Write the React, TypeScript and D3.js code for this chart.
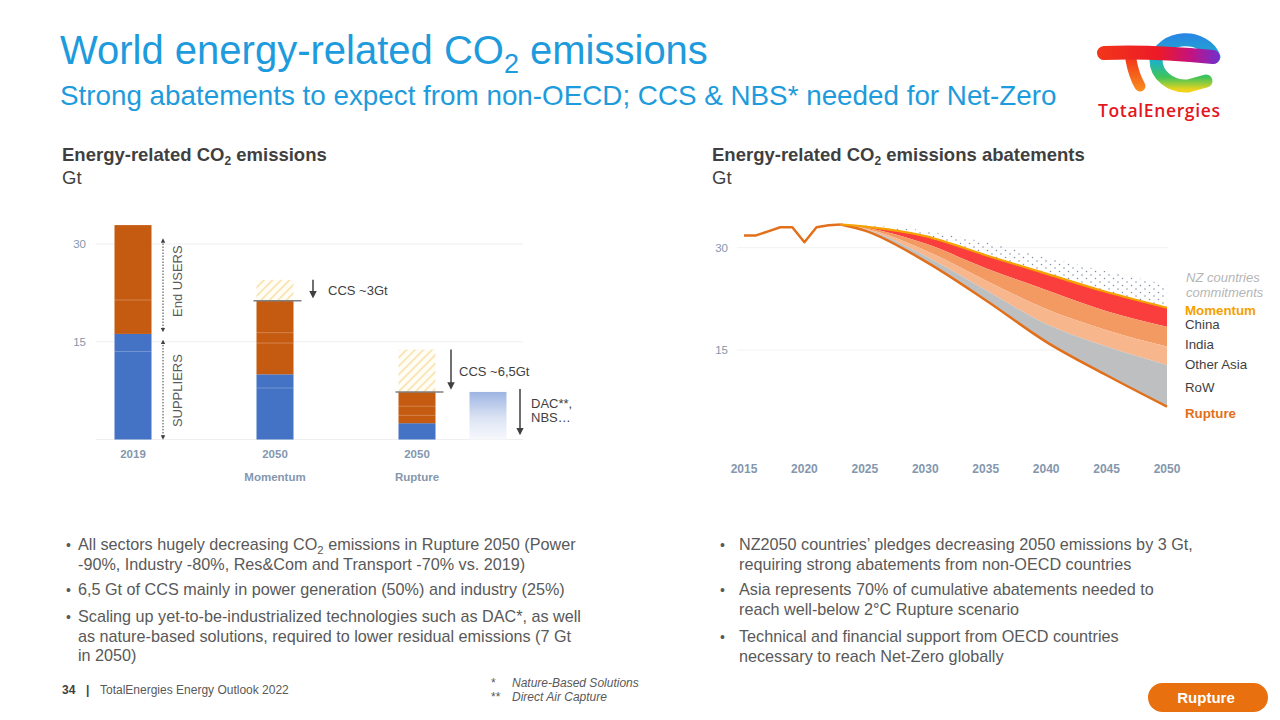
import React from "react";
import * as d3 from "d3";

// ---------- Left chart data (Gt) ----------
const barCategories = ["2019", "Momentum", "Rupture"];
const barYearLabels = ["2019", "2050", "2050"];
const barScenarioLabels = ["", "Momentum", "Rupture"];
const suppliers = [16.2, 10.0, 2.5];
const endUsers = [16.7, 11.3, 4.8];
const ccs = [0, 3.2, 6.5];
const sectorSeparators = [[13.5, 21.4], [7.9, 14.8, 16.4], [3.7, 5.1]];
const dacNbs = 7.3;
const leftTicks = [0, 15, 30];

// ---------- Right chart data (Gt) ----------
const histYears = [2015, 2016, 2017, 2018, 2019, 2020, 2021, 2022, 2023];
const histValues = [31.8, 31.8, 32.4, 33.0, 33.0, 30.8, 33.0, 33.3, 33.4];
const projYears = [2023, 2025, 2030, 2035, 2040, 2045, 2050];
const nzCommitmentsTop = [33.4, 33.3, 32.5, 30.8, 28.6, 26.5, 24.6];
const momentum = [33.4, 33.1, 31.7, 28.9, 26.2, 23.5, 21.2];
const chinaLow = [33.4, 32.95, 30.6, 27.0, 23.8, 20.7, 18.4];
const indiaLow = [33.4, 32.8, 29.6, 25.2, 21.0, 17.9, 15.5];
const otherAsiaLow = [33.4, 32.7, 28.8, 23.8, 18.8, 15.5, 12.8];
const rupture = [33.4, 32.5, 28.0, 22.3, 16.2, 11.3, 6.7];
const rightTicks = [15, 30];
const xTickYears = [2015, 2020, 2025, 2030, 2035, 2040, 2045, 2050];

const FONT = "'Liberation Sans', Arial, Helvetica, sans-serif";
const BLUE_TITLE = "#1E9BDC";
const TEXT = "#595959";
const DARK = "#3F3F3F";
const AXIS = "#8497AE";

const leftBullets = [
  { lines: [["All sectors hugely decreasing CO", "2", " emissions in Rupture 2050 (Power"], ["-90%, Industry -80%, Res&Com and Transport -70% vs. 2019)"]], y: 550 },
  { lines: [["6,5 Gt of CCS mainly in power generation (50%) and industry (25%)"]], y: 595 },
  { lines: [["Scaling up yet-to-be-industrialized technologies such as DAC*, as well"], ["as nature-based solutions, required to lower residual emissions (7 Gt"], ["in 2050)"]], y: 622 },
];
const rightBullets = [
  { lines: [["NZ2050 countries\u2019 pledges decreasing 2050 emissions by 3 Gt,"], ["requiring strong abatements from non-OECD countries"]], y: 550 },
  { lines: [["Asia represents 70% of cumulative abatements needed to"], ["reach well-below 2\u00b0C Rupture scenario"]], y: 595 },
  { lines: [["Technical and financial support from OECD countries"], ["necessary to reach Net-Zero globally"]], y: 642 },
];

function Line({ parts, x, y, size }: { parts: string[]; x: number; y: number; size: number }) {
  return (
    <text x={x} y={y} fontSize={size} fill={TEXT} fontFamily={FONT}>
      {parts.length === 1 ? parts[0] : (
        <>
          {parts[0]}
          <tspan dy={4} fontSize={size * 0.7}>{parts[1]}</tspan>
          <tspan dy={-4}>{parts[2]}</tspan>
        </>
      )}
    </text>
  );
}

function Bullets({ items, bx, tx }: { items: any[]; bx: number; tx: number }) {
  return (
    <g>
      {items.map((b, i) => (
        <g key={i}>
          <text x={bx} y={b.y} fontSize={14} fill={TEXT} fontFamily={FONT}>{"\u2022"}</text>
          {b.lines.map((l: string[], j: number) => (
            <Line key={j} parts={l} x={tx} y={b.y + j * 19.5} size={16.2} />
          ))}
        </g>
      ))}
    </g>
  );
}

function LeftChart() {
  const x = d3.scalePoint<string>().domain(barCategories).range([62, 488]).padding(0.5);
  const y = d3.scaleLinear().domain([0, 30]).range([439.5, 244]);
  const bw = 37;
  const bx = (c: string) => (x(c) as number) - bw / 2;
  const dacX = (x("Rupture") as number) + 71 - bw / 2;
  const ccsArrowX = [0, 313, 451];
  const ccsTextX = [0, 328, 459];
  const ccsLabels = ["", "CCS ~3Gt", "CCS ~6,5Gt"];
  return (
    <g fontFamily={FONT}>
      <text x={62} y={161} fontSize={18.5} fontWeight="bold" fill={DARK}>
        Energy-related CO<tspan dy={4} fontSize={12}>2</tspan><tspan dy={-4}> emissions</tspan>
      </text>
      <text x={62} y={184} fontSize={18.5} fill={DARK}>Gt</text>
      {leftTicks.map((t) => (
        <g key={t}>
          <line x1={96} x2={523} y1={y(t)} y2={y(t)} stroke="#EFEFEF" strokeWidth={1} />
          {t > 0 && (
            <text x={86} y={y(t) + 4} fontSize={11.5} fill={AXIS} textAnchor="end">{t}</text>
          )}
        </g>
      ))}
      <defs>
        <pattern id="hatch" width="6" height="6" patternUnits="userSpaceOnUse" patternTransform="rotate(45)">
          <rect width="6" height="6" fill="#FFFDF6" />
          <line x1="0" y1="0" x2="0" y2="6" stroke="#F7DFA5" strokeWidth="3" />
        </pattern>
        <linearGradient id="dacGrad" x1="0" y1="0" x2="0" y2="1">
          <stop offset="0" stopColor="#9DB4E2" />
          <stop offset="0.55" stopColor="#DCE4F4" />
          <stop offset="1" stopColor="#F7F8FC" />
        </linearGradient>
        <marker id="ah" viewBox="0 0 10 10" refX="5" refY="5" markerWidth="5" markerHeight="6" orient="auto-start-reverse">
          <path d="M0,0 L10,5 L0,10 z" fill="#404040" />
        </marker>
        <marker id="ahs" viewBox="0 0 10 10" refX="5" refY="5" markerWidth="4.5" markerHeight="5" orient="auto-start-reverse">
          <path d="M0,0 L10,5 L0,10 z" fill="#404040" />
        </marker>
      </defs>
      {barCategories.map((c, i) => {
        const total = suppliers[i] + endUsers[i];
        return (
          <g key={c}>
            {ccs[i] > 0 && (
              <rect x={bx(c)} y={y(total + ccs[i])} width={bw} height={y(total) - y(total + ccs[i])} fill="url(#hatch)" />
            )}
            <rect x={bx(c)} y={y(suppliers[i])} width={bw} height={y(0) - y(suppliers[i])} fill="#4472C4" />
            <rect x={bx(c)} y={y(total)} width={bw} height={y(suppliers[i]) - y(total)} fill="#C55A11" />
            {sectorSeparators[i].map((s, j) => (
              <line key={j} x1={bx(c)} x2={bx(c) + bw} y1={y(s)} y2={y(s)} stroke="#FFFFFF" strokeOpacity={0.25} strokeWidth={1} />
            ))}
            {ccs[i] > 0 && (
              <>
                <line x1={bx(c) - 3} x2={bx(c) + bw + 8} y1={y(total)} y2={y(total)} stroke="#808080" strokeWidth={1.5} />
                <line x1={ccsArrowX[i]} x2={ccsArrowX[i]} y1={y(total + ccs[i])} y2={y(total) - 6} stroke="#404040" strokeWidth={1.5} markerEnd="url(#ah)" />
                <text x={ccsTextX[i]} y={y(total + ccs[i] / 2) + 5} fontSize={13} fill={DARK}>{ccsLabels[i]}</text>
              </>
            )}
            <text x={x(c)} y={458} fontSize={11.5} fontWeight="bold" fill={AXIS} textAnchor="middle">{barYearLabels[i]}</text>
            {barScenarioLabels[i] && (
              <text x={x(c)} y={481} fontSize={11.5} fontWeight="bold" fill={AXIS} textAnchor="middle">{barScenarioLabels[i]}</text>
            )}
          </g>
        );
      })}
      {/* DAC / NBS box */}
      <rect x={dacX} y={y(dacNbs)} width={bw} height={y(0) - y(dacNbs)} fill="url(#dacGrad)" />
      <line x1={520} x2={520} y1={y(dacNbs) - 3} y2={y(0) - 8} stroke="#404040" strokeWidth={1.5} markerEnd="url(#ah)" />
      <text x={531} y={408} fontSize={13} fill={DARK}>DAC**,</text>
      <text x={531} y={422} fontSize={13} fill={DARK}>NBS…</text>
      {/* End users / suppliers arrows */}
      <line x1={163} x2={163} y1={y(31) + 3} y2={y(suppliers[0]) - 4} stroke="#404040" strokeWidth={1} strokeDasharray="1.5,1.5" markerStart="url(#ahs)" markerEnd="url(#ahs)" />
      <line x1={163} x2={163} y1={y(suppliers[0]) + 8} y2={y(0) - 2} stroke="#404040" strokeWidth={1} strokeDasharray="1.5,1.5" markerStart="url(#ahs)" markerEnd="url(#ahs)" />
      <text transform={`translate(182,${y(24.3)}) rotate(-90)`} fontSize={13} fill={TEXT} textAnchor="middle">End USERS</text>
      <text transform={`translate(182,${y(7.5)}) rotate(-90)`} fontSize={13} fill={TEXT} textAnchor="middle">SUPPLIERS</text>
    </g>
  );
}

function RightChart() {
  const x = d3.scaleLinear().domain([2015, 2050]).range([744, 1167]);
  const y = d3.scaleLinear().domain([0, 30]).range([452.3, 247.7]);
  const idx = projYears.map((_, i) => i);
  const band = (top: number[], bot: number[]) =>
    d3.area<number>().x((i) => x(projYears[i])).y0((i) => y(bot[i])).y1((i) => y(top[i])).curve(d3.curveMonotoneX)(idx) || "";
  const line = (v: number[]) =>
    d3.line<number>().x((i) => x(projYears[i])).y((i) => y(v[i])).curve(d3.curveMonotoneX)(idx) || "";
  const hist = d3.line<number>().x((_, i) => x(histYears[i])).y((d) => y(d))(histValues) || "";
  const legend = [
    { t: "Momentum", y: 315, c: "#F5A100", b: true },
    { t: "China", y: 329, c: DARK },
    { t: "India", y: 349, c: DARK },
    { t: "Other Asia", y: 369, c: DARK },
    { t: "RoW", y: 392, c: DARK },
    { t: "Rupture", y: 418, c: "#E2701B", b: true },
  ];
  return (
    <g fontFamily={FONT}>
      <text x={712} y={161} fontSize={18.5} fontWeight="bold" fill={DARK}>
        Energy-related CO<tspan dy={4} fontSize={12}>2</tspan><tspan dy={-4}> emissions abatements</tspan>
      </text>
      <text x={712} y={184} fontSize={18.5} fill={DARK}>Gt</text>
      <defs>
        <pattern id="dots" width="9" height="7" patternUnits="userSpaceOnUse">
          <circle cx="2" cy="2" r="0.75" fill="#5E6E8A" />
          <circle cx="6.5" cy="5.5" r="0.75" fill="#5E6E8A" />
        </pattern>
      </defs>
      {rightTicks.map((t) => (
        <g key={t}>
          <line x1={737} x2={1168} y1={y(t)} y2={y(t)} stroke="#F2F2F2" strokeWidth={1} />
          <text x={728} y={y(t) + 4} fontSize={11.5} fill={AXIS} textAnchor="end">{t}</text>
        </g>
      ))}
      <path d={band(nzCommitmentsTop, momentum)} fill="url(#dots)" opacity={0.8} />
      <path d={band(momentum, chinaLow)} fill="#FA3E3E" />
      <path d={band(chinaLow, indiaLow)} fill="#F39A62" />
      <path d={band(indiaLow, otherAsiaLow)} fill="#F7B68B" />
      <path d={band(otherAsiaLow, rupture)} fill="#BEBFC1" />
      <path d={line(rupture)} fill="none" stroke="#E2701B" strokeWidth={2.5} />
      <path d={line(momentum)} fill="none" stroke="#F5A100" strokeWidth={2.2} />
      <path d={hist} fill="none" stroke="#E2701B" strokeWidth={2.5} strokeLinejoin="round" />
      {xTickYears.map((yr) => (
        <text key={yr} x={x(yr)} y={473} fontSize={12} fontWeight="bold" fill={AXIS} textAnchor="middle">{yr}</text>
      ))}
      <text x={1186} y={282} fontSize={13} fontStyle="italic" fill="#B5B5B5">NZ countries</text>
      <text x={1186} y={297} fontSize={13} fontStyle="italic" fill="#B5B5B5">commitments</text>
      {legend.map((l) => (
        <text key={l.t} x={1185} y={l.y} fontSize={13.3} fontWeight={l.b ? "bold" : "normal"} fill={l.c}>{l.t}</text>
      ))}
    </g>
  );
}

function Logo() {
  return (
    <g>
      <defs>
        <linearGradient id="barG" x1="1100" y1="0" x2="1216" y2="0" gradientUnits="userSpaceOnUse">
          <stop offset="0" stopColor="#F2351B" />
          <stop offset="0.5" stopColor="#EC1A26" />
          <stop offset="0.78" stopColor="#C4127F" />
          <stop offset="1" stopColor="#7B2CC6" />
        </linearGradient>
        <linearGradient id="eG" x1="0" y1="32" x2="0" y2="90" gradientUnits="userSpaceOnUse">
          <stop offset="0" stopColor="#2B82E8" />
          <stop offset="0.5" stopColor="#1DB2C6" />
          <stop offset="0.78" stopColor="#40C45A" />
          <stop offset="1" stopColor="#F0D41C" />
        </linearGradient>
        <linearGradient id="stemG" x1="0" y1="58" x2="0" y2="90" gradientUnits="userSpaceOnUse">
          <stop offset="0" stopColor="#F2351B" />
          <stop offset="1" stopColor="#F88B1E" />
        </linearGradient>
      </defs>
      <path d="M1214,57 A30,25 0 0,0 1156,60 A30,26 0 0,0 1188,86 L1206,81" fill="none" stroke="url(#eG)" strokeWidth={13} strokeLinecap="round" strokeLinejoin="round" />
      <path d="M1131,60 Q1134,76 1140,86" fill="none" stroke="url(#stemG)" strokeWidth={11} strokeLinecap="round" />
      <path d="M1104,53 Q1150,51 1213,57" fill="none" stroke="url(#barG)" strokeWidth={14} strokeLinecap="round" />
      <text x={1098} y={117} fontSize={17.5} fontWeight={600} fill="#E4161E" fontFamily="'Open Sans', 'Noto Sans', sans-serif" textLength={122}>TotalEnergies</text>
    </g>
  );
}

export default function App() {
  return (
    <svg width={1280} height={720} style={{ position: "absolute", left: 0, top: 0, background: "#fff" }} fontFamily={FONT}>
      <rect width={1280} height={720} fill="#FFFFFF" />
      <text x={60} y={64} fontSize={40} fill={BLUE_TITLE}>
        World energy-related CO<tspan dy={9} fontSize={27}>2</tspan><tspan dy={-9}> emissions</tspan>
      </text>
      <text x={60} y={105} fontSize={27.8} fill={BLUE_TITLE}>
        Strong abatements to expect from non-OECD; CCS &amp; NBS* needed for Net-Zero
      </text>
      <Logo />
      <LeftChart />
      <RightChart />
      <Bullets items={leftBullets} bx={66} tx={78} />
      <Bullets items={rightBullets} bx={720} tx={739} />
      {/* footer */}
      <text x={62} y={694} fontSize={12} fontWeight="bold" fill={DARK}>34</text>
      <text x={86} y={694} fontSize={12} fontWeight="bold" fill={DARK}>|</text>
      <text x={100} y={694} fontSize={12} fill={TEXT}>TotalEnergies Energy Outlook 2022</text>
      <text x={491} y={687} fontSize={12} fill={TEXT}>*</text>
      <text x={512} y={687} fontSize={12} fontStyle="italic" fill={TEXT}>Nature-Based Solutions</text>
      <text x={491} y={701} fontSize={12} fill={TEXT}>**</text>
      <text x={512} y={701} fontSize={12} fontStyle="italic" fill={TEXT}>Direct Air Capture</text>
      <rect x={1148} y={683} width={120} height={29} rx={14.5} fill="#E8700F" />
      <text x={1206} y={702.5} fontSize={15} fontWeight="bold" fill="#FFFFFF" textAnchor="middle">Rupture</text>
    </svg>
  );
}
